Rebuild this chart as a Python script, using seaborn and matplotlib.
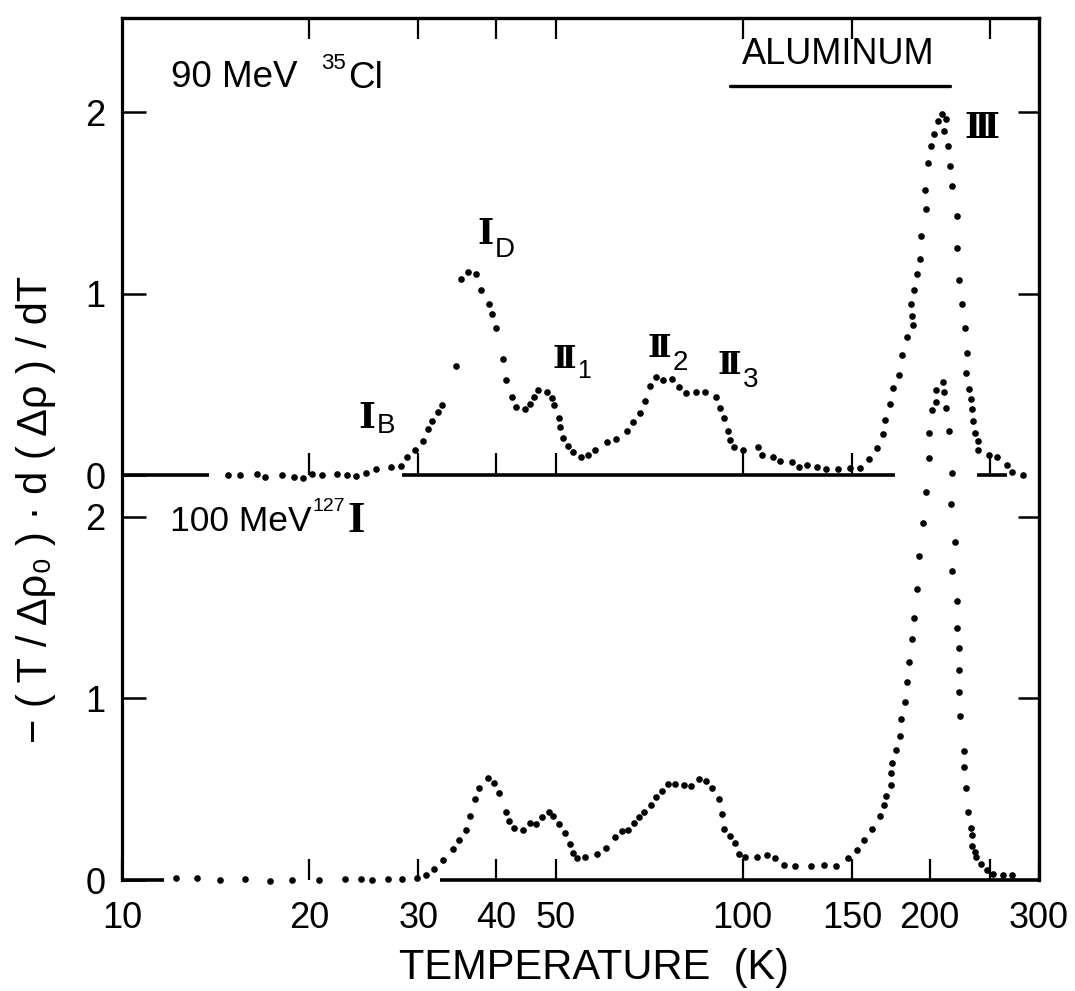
import numpy as np
import pandas as pd
import matplotlib
matplotlib.use("Agg")
import matplotlib.pyplot as plt
import seaborn as sns
from matplotlib.ticker import FixedLocator, FixedFormatter, NullLocator, NullFormatter
from matplotlib.lines import Line2D

# ---------------- data ----------------
# upper curve: 90 MeV 35Cl  (temperature K, value in panel units)
top_T = [14.8, 15.5, 16.5, 17.0, 18.1, 18.9, 19.6, 20.2, 21.0, 22.2,
         23.0, 23.8, 24.7, 25.7, 27.1, 28.1, 28.8, 29.6, 30.5, 31.1,
         31.6, 32.3, 32.8, 34.5, 35.2, 36.1, 37.2, 37.9, 39.0, 39.4,
         40.1, 41.1, 41.6, 42.5, 43.1, 44.5, 45.4, 46.1, 46.7, 48.3,
         49.2, 49.6, 50.5, 50.7, 51.3, 52.2, 53.3, 54.8, 56.4, 57.7,
         60.5, 62.4, 65.1, 66.5, 68.2, 69.5, 70.9, 72.5, 74.3, 77.0,
         78.9, 81.0, 84.0, 86.8, 90.4, 91.8, 93.4, 94.5, 95.5, 96.9,
         100.0, 105.9, 107.3, 111.8, 114.9, 120.0, 123.0, 126.9, 131.7, 136.3,
         142.2, 149.0, 154.7, 159.9, 164.3, 168.3, 169.7, 172.7, 174.8, 178.5,
         180.5, 183.7, 187.7, 187.6, 186.8, 188.9, 190.5, 192.6, 193.6, 197.0,
         196.8, 198.4, 201.2, 203.1, 206.0, 209.2, 212.7, 211.2, 214.0, 215.9,
         217.1, 221.0, 221.4, 222.6, 225.4, 227.9, 229.6, 229.0, 231.6, 233.1,
         233.8, 234.9, 236.5, 238.9, 239.6, 248.8, 256.6, 266.3, 271.5, 282.8]
top_v = [0.0, 0.0, 0.004, -0.013, -0.002, -0.013, -0.018, 0.004, 0.003, 0.007,
         0.0, -0.004, 0.013, 0.034, 0.045, 0.048, 0.098, 0.140, 0.186, 0.251,
         0.298, 0.348, 0.384, 0.599, 1.079, 1.121, 1.109, 1.021, 0.944, 0.889,
         0.811, 0.641, 0.521, 0.432, 0.377, 0.362, 0.393, 0.432, 0.469, 0.458,
         0.427, 0.385, 0.315, 0.263, 0.205, 0.162, 0.129, 0.098, 0.109, 0.140,
         0.181, 0.198, 0.240, 0.292, 0.343, 0.408, 0.490, 0.540, 0.525, 0.529,
         0.487, 0.454, 0.460, 0.455, 0.429, 0.371, 0.316, 0.242, 0.193, 0.152,
         0.139, 0.152, 0.112, 0.098, 0.076, 0.072, 0.044, 0.054, 0.044, 0.036,
         0.036, 0.041, 0.037, 0.090, 0.147, 0.228, 0.303, 0.389, 0.477, 0.551,
         0.661, 0.762, 0.824, 0.875, 0.943, 1.019, 1.108, 1.192, 1.315, 1.464,
         1.571, 1.719, 1.814, 1.878, 1.948, 1.988, 1.962, 1.896, 1.814, 1.704,
         1.594, 1.426, 1.252, 1.073, 0.941, 0.809, 0.670, 0.560, 0.474, 0.419,
         0.364, 0.297, 0.232, 0.185, 0.136, 0.108, 0.099, 0.057, 0.016, 0.0]

# lower curve: 100 MeV 127I
bot_T = [12.2, 13.2, 14.4, 15.8, 17.3, 18.8, 20.8, 22.9, 24.3, 25.3,
         26.8, 28.3, 29.9, 30.9, 31.8, 32.9, 34.1, 34.9, 35.8, 36.4,
         37.0, 37.6, 38.8, 39.8, 40.5, 41.6, 42.0, 42.8, 44.2, 45.4,
         46.5, 47.5, 48.8, 49.5, 50.6, 51.8, 52.6, 53.2, 54.1, 55.7,
         58.2, 60.1, 62.2, 63.8, 65.4, 66.7, 68.0, 69.2, 71.2, 72.6,
         74.1, 75.7, 77.9, 80.5, 82.6, 85.0, 87.3, 89.1, 91.4, 92.6,
         93.4, 95.2, 97.1, 98.5, 101.0, 105.5, 109.3, 112.5, 116.3, 121.2,
         128.6, 134.9, 141.5, 147.6, 152.8, 157.0, 161.4, 166.1, 169.0, 169.8,
         173.0, 173.4, 173.9, 176.2, 178.9, 179.8, 182.8, 183.8, 185.1, 187.5,
         188.9, 190.9, 192.4, 195.0, 197.1, 199.2, 199.4, 201.6, 204.7, 204.6,
         210.4, 211.1, 212.5, 215.0, 217.3, 216.4, 219.5, 217.2, 221.6, 221.4,
         222.7, 222.9, 223.2, 224.1, 227.0, 227.0, 228.6, 230.6, 233.4, 234.4,
         234.2, 236.6, 237.8, 241.5, 247.7, 253.2, 262.5, 271.8]
bot_v = [0.010, 0.010, 0.0, 0.003, -0.004, 0.001, -0.002, 0.007, 0.004, 0.0,
         0.005, 0.008, 0.009, 0.030, 0.060, 0.111, 0.170, 0.220, 0.278, 0.352,
         0.448, 0.509, 0.560, 0.532, 0.479, 0.373, 0.323, 0.289, 0.276, 0.313,
         0.306, 0.346, 0.377, 0.352, 0.306, 0.258, 0.200, 0.150, 0.123, 0.128,
         0.143, 0.175, 0.239, 0.272, 0.276, 0.313, 0.348, 0.375, 0.414, 0.460,
         0.488, 0.527, 0.530, 0.525, 0.517, 0.555, 0.547, 0.507, 0.445, 0.362,
         0.281, 0.242, 0.206, 0.142, 0.126, 0.126, 0.138, 0.120, 0.085, 0.078,
         0.078, 0.084, 0.075, 0.121, 0.164, 0.223, 0.279, 0.351, 0.412, 0.461,
         0.521, 0.591, 0.642, 0.715, 0.796, 0.888, 0.978, 1.092, 1.202, 1.327,
         1.441, 1.603, 1.785, 1.965, 2.136, 2.323, 2.461, 2.589, 2.635, 2.699,
         2.742, 2.687, 2.599, 2.471, 2.245, 2.070, 1.861, 1.702, 1.539, 1.391,
         1.280, 1.159, 1.036, 0.904, 0.711, 0.621, 0.505, 0.374, 0.289, 0.248,
         0.185, 0.153, 0.126, 0.089, 0.056, 0.034, 0.029, 0.025]

x_ticks = [10, 20, 30, 40, 50, 100, 150, 200, 250, 300]
x_tick_labels = ["10", "20", "30", "40", "50", "100", "150", "200", "", "300"]
top_x_ticks = [20, 30, 40, 50, 100, 150, 250]
mid_x_ticks = [20, 30, 40, 50, 100, 150, 250]
y_tick_labels = ["0", "1", "2", "0", "1", "2"]

OFFSET = 2.231   # zero line of the upper panel
YMAX = 4.749

# ---------------- figure ----------------
W, H = 1075, 991
sns.set_theme(style="white")
SANS = ["Liberation Sans", "DejaVu Sans"]
ROM = ["DejaVu Serif", "DejaVu Sans"]
SERIF = ["Liberation Serif", "DejaVu Serif"]
plt.rcParams["font.family"] = SANS
plt.rcParams["axes.unicode_minus"] = True

fig = plt.figure(figsize=(W / 100, H / 100), dpi=100)
fig.patch.set_facecolor("white")
L, R, B, T = 122, 1039, 880, 18
ax = fig.add_axes([L / W, 1 - B / H, (R - L) / W, (B - T) / H])
ax.set_facecolor("white")

df = pd.concat([
    pd.DataFrame({"T": top_T, "val": np.array(top_v) + OFFSET, "ion": "Cl"}),
    pd.DataFrame({"T": bot_T, "val": bot_v, "ion": "I"}),
], ignore_index=True)
sns.scatterplot(data=df, x="T", y="val", color="black", s=23, linewidth=0,
                ax=ax, legend=False, clip_on=False, zorder=3)

ax.set_xscale("log")
ax.set_xlim(10, 300)
ax.set_ylim(0, YMAX)
ax.xaxis.set_major_locator(FixedLocator(x_ticks))
ax.xaxis.set_major_formatter(FixedFormatter(x_tick_labels))
ax.xaxis.set_minor_locator(NullLocator())
y_ticks = [0, 1, 2, OFFSET, OFFSET + 1, OFFSET + 2]
ax.yaxis.set_major_locator(FixedLocator(y_ticks))
ax.yaxis.set_major_formatter(FixedFormatter(y_tick_labels))
ax.yaxis.set_minor_locator(NullLocator())
ax.tick_params(axis="x", which="both", direction="in", length=15, width=1.6,
               labelsize=26, pad=15, top=False, bottom=True, color="black",
               labelcolor="black")
ax.tick_params(axis="y", which="both", direction="in", length=17, width=1.8,
               labelsize=26, pad=12, right=False, left=True, color="black",
               labelcolor="black")
ax.set_xlabel("")
ax.set_ylabel("")
for s in ["left", "top", "right"]:
    ax.spines[s].set_linewidth(2.3)
    ax.spines[s].set_color("black")
ax.spines["bottom"].set_visible(False)
ax.grid(False)

# broken base lines (axis line of the lower panel and zero line of the upper panel)
ax.hlines([0, 0], [10, 32.5], [11.7, 300], colors="black", lw=2.6, clip_on=False)
ax.hlines([OFFSET] * 3, [10, 28.3, 238], [13.8, 176, 266.5], colors="black", lw=2.6)
ax.vlines(mid_x_ticks, OFFSET, OFFSET + 0.12, colors="black", lw=1.6)

secx = ax.secondary_xaxis("top")
secx.xaxis.set_major_locator(FixedLocator(top_x_ticks))
secx.xaxis.set_minor_locator(NullLocator())
secx.xaxis.set_major_formatter(NullFormatter())
secx.tick_params(direction="in", length=15, width=1.6, color="black")
secx.spines["top"].set_linewidth(2.3)

secy = ax.secondary_yaxis("right")
secy.yaxis.set_major_locator(FixedLocator([1, 2, OFFSET + 1, OFFSET + 2]))
secy.yaxis.set_minor_locator(NullLocator())
secy.yaxis.set_major_formatter(NullFormatter())
secy.tick_params(direction="in", length=15, width=1.8, color="black")
secy.spines["right"].set_linewidth(2.3)


def dx(py):
    return 0.0148 * (880 - py)


def txt(px, py, s, size, family=None, ha="left", va="baseline", **kw):
    x = px - dx(py)
    fig.text(x / W, 1 - py / H, s, fontsize=size, ha=ha, va=va,
             family=family or SANS, color="black", **kw)


# panel titles
txt(183, 87, "90 MeV", 26.5)
txt(333, 69, "35", 16)
txt(360, 88, "Cl", 26.5)
txt(175, 531, "100 MeV", 25.5)
txt(318, 511, "127", 14)
txt(353, 532, "I", 32, family=SERIF, weight="bold")
txt(850, 64, "ALUMINUM", 26, ha="center")
fig.add_artist(Line2D([(742 - dx(86)) / W, (962 - dx(86)) / W],
                      [1 - 86 / H, 1 - 86 / H], lw=2.4, color="black"))

# peak labels
txt(365, 428, "Ⅰ", 26, family=ROM, weight="bold")
txt(383, 433, "B", 20)
txt(487, 244, "Ⅰ", 25, family=ROM, weight="bold")
txt(504, 257, "D", 20)
txt(560, 368, "Ⅱ", 23, family=ROM, weight="bold")
txt(585, 378, "1", 18)
txt(655, 357, "Ⅱ", 23, family=ROM, weight="bold")
txt(680, 370, "2", 20)
txt(725, 374, "Ⅱ", 23, family=ROM, weight="bold")
txt(750, 387, "3", 20)
txt(975, 138, "Ⅲ", 25, family=ROM, weight="bold")

# axis titles
fig.text(594 / W, 1 - 979 / H, "TEMPERATURE  (K)", fontsize=30, ha="center",
         va="baseline", family=SANS, color="black")
fig.text(36 / W, 1 - 509 / H, "− ( T / Δρ₀ ) · d ( Δρ ) / dT", fontsize=30,
         rotation=90, ha="center", va="center", family=SANS, color="black")

fig.savefig("out.png", dpi=100, facecolor="white")
